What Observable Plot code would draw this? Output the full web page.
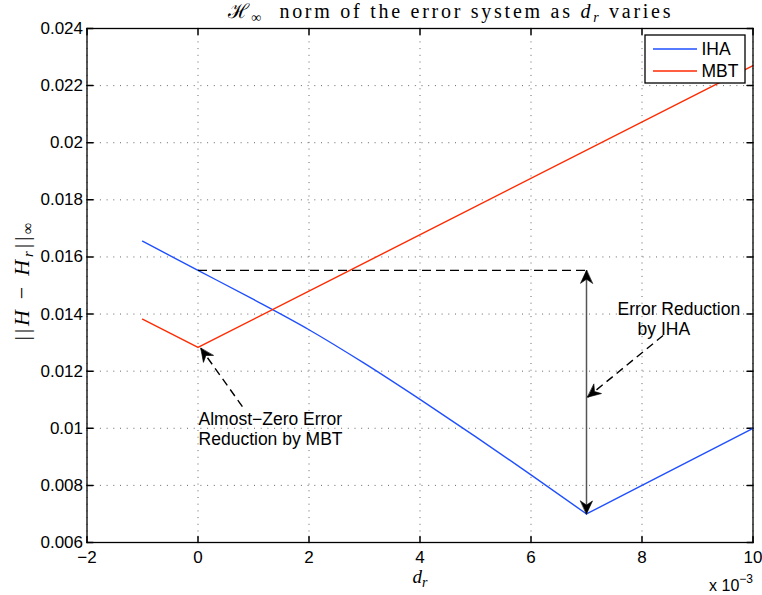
<!DOCTYPE html>
<html><head><meta charset="utf-8">
<script src="https://cdn.jsdelivr.net/npm/d3@7"></script>
<script src="https://cdn.jsdelivr.net/npm/@observablehq/plot@0.6"></script>
<style>body{margin:0;background:#fff} svg{display:block}</style>
</head><body><div id="chart"></div>
<script>
// ---- data ----
const xIHA = [-1, 0, 1, 2, 3, 4, 5, 6, 7, 8, 9, 10];
const yIHA = [0.01655, 0.01553, 0.01451, 0.01345, 0.01227, 0.01101, 0.00971, 0.00837, 0.00700, 0.00800, 0.00900, 0.01000];
const xMBT = [-1, 0, 10];
const yMBT = [0.01382, 0.01283, 0.02270];
const seriesNames = ["IHA", "MBT"];
const seriesColors = ["#1f4fff", "#ff2a00"];
const xTicks = [-2, 0, 2, 4, 6, 8, 10];
const xTickLabels = ["−2", "0", "2", "4", "6", "8", "10"];
const yTicks = [0.006, 0.008, 0.010, 0.012, 0.014, 0.016, 0.018, 0.020, 0.022, 0.024];
const yTickLabels = ["0.006", "0.008", "0.01", "0.012", "0.014", "0.016", "0.018", "0.02", "0.022", "0.024"];
const xDomain = [-2, 10];
const yDomain = [0.006, 0.024];

// annotations
const refSegment = [{x1: 0, x2: 7, y: 0.01553}];
const reductionArrow = [{x: 7, y1: 0.01553, y2: 0.00700}];
const dashedArrows = [
  {x1: 8.38, y1: 0.01325, x2: 7.02, y2: 0.01109},
  {x1: 0.80, y1: 0.01076, x2: 0.05, y2: 0.01280}
];
const noteTexts = [
  {x: 7.56, y: 0.01415, text: "Error Reduction"},
  {x: 7.92, y: 0.01345, text: "by IHA"},
  {x: 0.01, y: 0.01031, text: "Almost−Zero Error"},
  {x: 0.01, y: 0.00960, text: "Reduction by MBT"}
];

const minIdx = yIHA.indexOf(Math.min(...yIHA));
const ihaData = xIHA.map((x, i) => ({x, y: yIHA[i]}));
const ihaLeft = ihaData.slice(0, minIdx + 1);
const ihaRight = ihaData.slice(minIdx);
const mbtData = xMBT.map((x, i) => ({x, y: yMBT[i]}));

const W = 762, H = 595;
const mL = 86.5, mR = 9.5, mT = 28, mB = 53;
const serif = "'Liberation Serif', 'DejaVu Serif', serif";
const sans = "'Liberation Sans', Arial, Helvetica, sans-serif";

// arrow tips: (from, to) pairs; heads are drawn at "to"
const tips = [
  ...reductionArrow.flatMap(a => [
    {x1: a.x, y1: (a.y1 + a.y2) / 2, x2: a.x, y2: a.y1},
    {x1: a.x, y1: (a.y1 + a.y2) / 2, x2: a.x, y2: a.y2}
  ]),
  ...dashedArrows
];

const headShape = {
  draw(ctx, l, r) {
    ctx.moveTo(0, 0);
    ctx.lineTo(-r, l);
    ctx.lineTo(0, l * 0.68);
    ctx.lineTo(r, l);
    ctx.closePath();
  }
};

function build(headMarks) {
  return Plot.plot({
    width: W, height: H,
    marginLeft: mL, marginRight: mR, marginTop: mT, marginBottom: mB,
    style: {fontFamily: sans, fontSize: "17px", background: "#fff", color: "#000"},
    x: {domain: xDomain, label: null},
    y: {domain: yDomain, label: null},
    marks: [
      Plot.gridX(xTicks, {stroke: "#666", strokeOpacity: 1, strokeDasharray: "1,5.7"}),
      Plot.gridY(yTicks, {stroke: "#666", strokeOpacity: 1, strokeDasharray: "1,5.7"}),
      Plot.vector(xTicks, {x: d => d, y: yDomain[0], length: 6, rotate: 0, anchor: "start", r: 0, stroke: "#000"}),
      Plot.vector(xTicks, {x: d => d, y: yDomain[1], length: 6, rotate: 180, anchor: "start", r: 0, stroke: "#000"}),
      Plot.vector(yTicks, {y: d => d, x: xDomain[0], length: 6, rotate: 90, anchor: "start", r: 0, stroke: "#000"}),
      Plot.vector(yTicks, {y: d => d, x: xDomain[1], length: 6, rotate: -90, anchor: "start", r: 0, stroke: "#000"}),
      Plot.axisX(xTicks, {tickSize: 0, tickPadding: 8, tickFormat: d => xTickLabels[xTicks.indexOf(d)], fontSize: 17, label: null}),
      Plot.axisY(yTicks, {tickSize: 0, tickPadding: 4, tickFormat: d => yTickLabels[yTicks.indexOf(d)], fontSize: 17, label: null}),
      Plot.line(ihaLeft, {x: "x", y: "y", stroke: seriesColors[0], strokeWidth: 1.4, curve: "monotone-x"}),
      Plot.line(ihaRight, {x: "x", y: "y", stroke: seriesColors[0], strokeWidth: 1.4}),
      Plot.line(mbtData, {x: "x", y: "y", stroke: seriesColors[1], strokeWidth: 1.4}),
      Plot.link(refSegment, {x1: "x1", x2: "x2", y1: "y", y2: "y", stroke: "#000", strokeWidth: 1.4, strokeDasharray: "9,5"}),
      Plot.link(reductionArrow, {x1: "x", x2: "x", y1: "y1", y2: "y2", stroke: "#555", strokeWidth: 1.5}),
      Plot.link(dashedArrows, {x1: "x1", y1: "y1", x2: "x2", y2: "y2", stroke: "#000", strokeWidth: 1.4, strokeDasharray: "8,5"}),
      ...headMarks,
      Plot.text(noteTexts, {x: "x", y: "y", text: "text", textAnchor: "start", lineAnchor: "middle", fontSize: 17.5, fill: "#000"}),
      Plot.frame({stroke: "#000", strokeWidth: 1.3}),
      Plot.text(["TITLE"], {frameAnchor: "top-left", dx: 227 - mL, dy: 17.5 - mT, textAnchor: "start", lineAnchor: "bottom", fontFamily: serif, fontSize: 20}),
      Plot.text(["YLABEL"], {frameAnchor: "left", dx: 21 - mL, dy: -4, rotate: -90, textAnchor: "middle", lineAnchor: "middle", fontFamily: serif, fontSize: 22}),
      Plot.text(["XLABEL"], {frameAnchor: "bottom", dy: 40.5, textAnchor: "middle", lineAnchor: "bottom", fontFamily: serif, fontSize: 19}),
      Plot.text(["XEXP"], {frameAnchor: "bottom-right", dy: 48, textAnchor: "end", lineAnchor: "bottom", fontSize: 16})
    ]
  });
}

// first pass: get the scales, then orient the arrow heads in screen space
const pass1 = build([]);
const X = pass1.scale("x").apply, Y = pass1.scale("y").apply;
const headData = tips.map(t => ({
  x: t.x2, y: t.y2,
  rot: Math.atan2(X(t.x2) - X(t.x1), -(Y(t.y2) - Y(t.y1))) * 180 / Math.PI
}));
let plot;
try {
  plot = build([Plot.vector(headData, {x: "x", y: "y", rotate: "rot", length: 13, r: 6, anchor: "start", shape: headShape, fill: "#000", stroke: "#000", strokeWidth: 0.6})]);
} catch (e) {
  plot = build([Plot.arrow(tips, {x1: "x1", y1: "y1", x2: "x2", y2: "y2", stroke: "#000", strokeWidth: 0, headLength: 12})]);
}

function rich(svg, key, parts, len) {
  d3.select(svg).selectAll("text").filter(function () { return this.textContent === key; }).each(function () {
    const t = d3.select(this);
    t.text(null);
    for (const p of parts) {
      const s = t.append("tspan").text(p.t);
      if (p.italic) s.attr("font-style", "italic");
      if (p.size) s.attr("font-size", p.size);
      if (p.dy) s.attr("dy", p.dy);
    }
    if (len) t.attr("textLength", len).attr("lengthAdjust", "spacing");
  });
}

rich(plot, "TITLE", [
  {t: "ℋ"}, {t: "∞", size: 14, dy: 4}, {t: "  norm of the error system as ", dy: -4},
  {t: "d", italic: true}, {t: "r", italic: true, size: 14, dy: 4}, {t: " varies", dy: -4}
], 443);
rich(plot, "YLABEL", [
  {t: "||"}, {t: "H", italic: true}, {t: " − "}, {t: "H", italic: true},
  {t: "r", italic: true, size: 15, dy: 4}, {t: "||", dy: -4}, {t: "∞", size: 16, dy: 4}
], 118);
rich(plot, "XLABEL", [{t: "d", italic: true}, {t: "r", italic: true, size: 14, dy: 4}]);
rich(plot, "XEXP", [{t: "x 10"}, {t: "−3", size: 12, dy: -8}]);

// legend (inside the frame, top-right)
const svg = d3.select(plot);
const fr = W - mR;
const lg = svg.append("g").attr("text-anchor", "start");
lg.append("rect").attr("x", fr - 107.5).attr("y", mT + 7).attr("width", 100).attr("height", 48)
  .attr("fill", "#fff").attr("stroke", "#000").attr("stroke-width", 1.3);
seriesNames.forEach((name, i) => {
  const yy = mT + 21 + i * 22;
  lg.append("line").attr("x1", fr - 99.5).attr("x2", fr - 55.5).attr("y1", yy).attr("y2", yy)
    .attr("stroke", seriesColors[i]).attr("stroke-width", 1.4);
  lg.append("text").attr("x", fr - 51).attr("y", yy).attr("dy", "0.35em").attr("font-size", 17.5).attr("text-anchor", "start").text(name);
});

document.getElementById("chart").appendChild(plot);
</script>
</body></html>
